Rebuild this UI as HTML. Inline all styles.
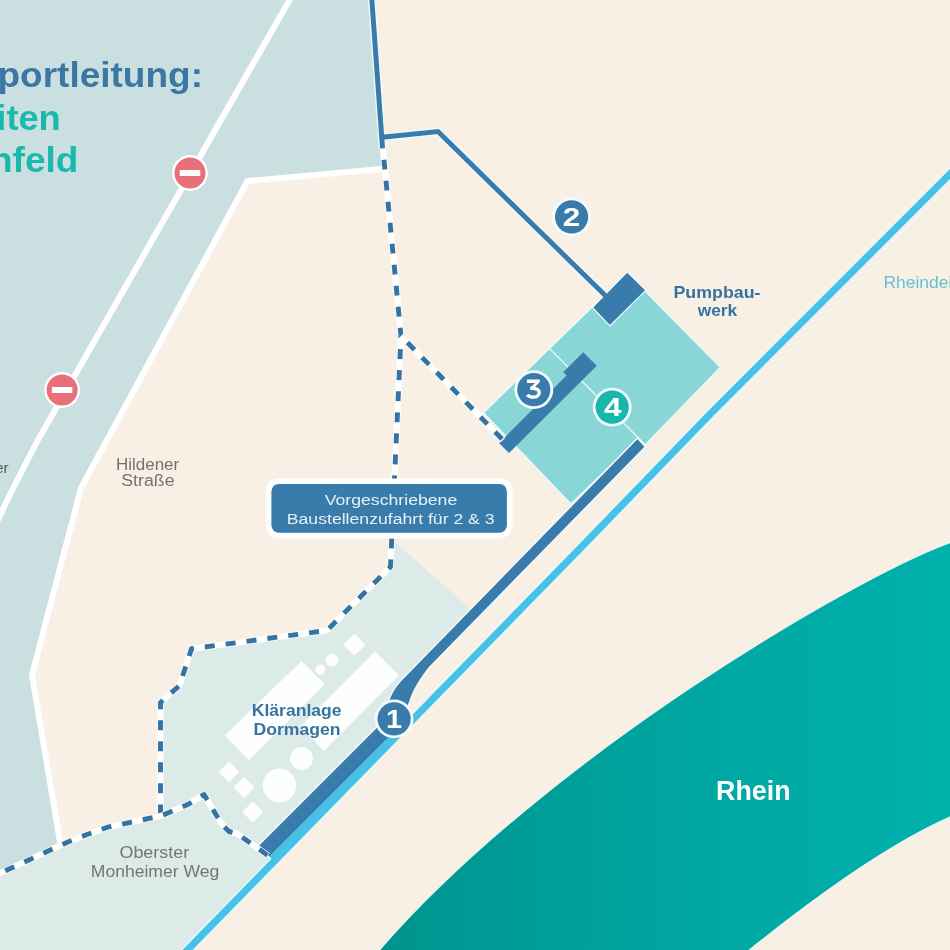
<!DOCTYPE html>
<html><head><meta charset="utf-8"><style>
html,body{margin:0;padding:0;background:#f8f0e5;}
svg{display:block;will-change:transform;}
text{font-family:"Liberation Sans",sans-serif;}
</style></head><body>
<svg width="950" height="950" viewBox="0 0 950 950">
<defs>
<linearGradient id="rg" x1="380" y1="0" x2="950" y2="0" gradientUnits="userSpaceOnUse">
<stop offset="0" stop-color="#00948e"/><stop offset="0.6" stop-color="#00a8a3"/><stop offset="1" stop-color="#00b1ac"/>
</linearGradient>
</defs>
<rect width="950" height="950" fill="#f8f0e5"/>
<!-- left bluish region -->
<path d="M-5,-5 L371.5,-5 L382.5,148 L383.5,169 L247.5,181 L81,488 L32,675 L60,842 L-5,875.5 Z" fill="#c9dfe0"/>
<!-- klaeranlage region -->
<path d="M-5.0,875.5 L10.3,868.5 L29.5,859.7 L48.7,850.8 L67.8,842.0 L87.7,834.3 L107.6,827.2 L128.2,822.8 L160.6,816.0 L160.5,702.5 L179.5,685.5 L191.5,648.8 L326.9,630.4 L390.5,566.8 L391.5,541.0 L395.2,542.3 L473.5,611.3 L410.0,676.0 L395.0,725.0 L272.0,860.0 L182.0,955.0 L-5.0,955.0 Z" fill="#ddebe8"/>
<!-- Rhein -->
<path d="M374.5,955 L379.5,950 C547.3,756.7 854.4,577.3 950,542.6 L956,540.4 L956,814.5 L950,817.1 C896.9,840.6 833.6,882.3 749.4,950 L745,955 Z" fill="url(#rg)" stroke="#eef6f1" stroke-width="1.2"/>
<!-- white roads -->
<g fill="none" stroke="#fff" stroke-width="6" stroke-linejoin="round">
<path d="M292.4,-5 L37.9,440 L12.2,490 L-4,524"/>
<path d="M383.5,168.7 L247.5,181 L81,488 L32,675 L60,842"/>
</g>
<!-- no entry signs -->
<g>
<circle cx="190" cy="173" r="17.9" fill="#fff"/><circle cx="190" cy="173" r="15.5" fill="#e8707a"/><rect x="179.75" y="170" width="20.5" height="6" fill="#fff"/>
<circle cx="62.1" cy="390" r="17.9" fill="#fff"/><circle cx="62.1" cy="390" r="15.5" fill="#e8707a"/><rect x="51.85" y="387" width="20.5" height="6" fill="#fff"/>
</g>
<!-- Klaeranlage buildings -->
<g fill="#fdfefe">
<polygon points="301.6,661 324.7,684.2 248.9,760 224.7,735.4"/>
<polygon points="375,651.5 398.75,675.4 324,750.7 300.3,726.8"/>
<polygon points="354.4,633.7 365.4,644.7 354.4,655.7 343.4,644.7"/>
<circle cx="320.4" cy="669.6" r="5"/>
<circle cx="331.8" cy="660.3" r="6.3"/>
<circle cx="301.5" cy="758.5" r="11.4"/>
<circle cx="279.4" cy="785.4" r="16.8"/>
<polygon points="229,761.6 239.5,772.1 229,782.6 218.5,772.1"/>
<polygon points="244.1,777 254.6,787.5 244.1,798 233.6,787.5"/>
<polygon points="252.7,801.5 263.2,812 252.7,822.5 242.2,812"/>
</g>
<!-- light blue line (Rheindeich) -->
<path d="M955,169 L710,414.2 L580,548.5 L187.4,950 L182.5,955" stroke="#e9f8fb" stroke-width="10" fill="none" stroke-linejoin="round"/>
<path d="M955,169 L710,414.2 L580,548.5 L187.4,950 L182.5,955" stroke="#47c1e5" stroke-width="7.2" fill="none" stroke-linejoin="round"/>
<!-- teal pump area -->
<path d="M627.3,273 L720.2,367.4 L645,445 L638.5,438.5 L570.9,503.9 L483.6,412.7 Z" fill="#88d6d6" stroke="#eefaf9" stroke-width="1.2"/>
<path d="M549.5,348.5 L645,444.5" stroke="#eefaf9" stroke-width="1.1"/>
<!-- dark pipe 1 -->
<path d="M637.4,439.2 L405,677.2 C398,684 393,691 389.5,700 L378.5,726.5 L259,846 L269.4,856.4 L399.4,726.4 L409.7,700 C412,692 418,681 428.6,667.2 L644.4,446.7 Z" fill="#397cab" stroke="#f3fafb" stroke-width="3" paint-order="stroke"/>
<path d="M378.5,726.5 L259,846 L269.4,856.4 L399.4,726.4 Z" fill="#397cab"/>
<path d="M399.4,726.4 L269.4,856.4 L272.5,859.5 L402.5,729.5 Z" fill="#47c1e5"/>
<!-- pipe 3 -->
<polygon points="583.25,352.25 596.75,365.75 509,453 499,443 566.5,375.5 563.4,372.1" fill="#397cab"/>
<!-- pump rect top -->
<polygon points="627.2,273.1 644.8,290.3 609.9,324.8 593.5,307.6" fill="#397cab" stroke="#f3fafb" stroke-width="2.6" paint-order="stroke"/>
<!-- solid line 2 -->
<path d="M371.5,-5 L382.5,148" stroke="#f3fafb" stroke-width="7.6" fill="none"/>
<path d="M384,137.2 L438,131.5 L606,296.3" stroke="#f3fafb" stroke-width="7.6" fill="none"/>
<path d="M371.5,-5 L382.5,148" stroke="#397cab" stroke-width="5" fill="none"/>
<path d="M382,137.3 L438,131.5 L606,296.3" stroke="#397cab" stroke-width="5" fill="none"/>
<polygon points="627.2,273.1 644.8,290.3 609.9,324.8 593.5,307.6" fill="#397cab"/>
<!-- dashed routes -->
<g fill="none" stroke-linejoin="round">
<path d="M382.8,148.0 L401.0,336.0" stroke="#fff" stroke-width="6.2"/>
<path d="M382.8,148.0 L401.0,336.0" stroke="#3574a2" stroke-width="4.9" stroke-dasharray="10 11.10" stroke-dashoffset="-11.7"/>
<path d="M401.0,336.0 L390.5,566.8 L326.9,630.4 L191.5,648.8 L179.5,685.5 L160.5,702.5 L160.5,816.0" stroke="#fff" stroke-width="6.2"/>
<path d="M401.0,336.0 L390.5,566.8 L326.9,630.4 L191.5,648.8 L179.5,685.5 L160.5,702.5 L160.5,816.0" stroke="#3574a2" stroke-width="4.9" stroke-dasharray="10 11.05" stroke-dashoffset="-13.2"/>
<path d="M401.0,336.0 L503.0,440.0" stroke="#fff" stroke-width="6.2"/>
<path d="M401.0,336.0 L503.0,440.0" stroke="#3574a2" stroke-width="4.9" stroke-dasharray="10 10.85" stroke-dashoffset="-9.2"/>
<path d="M-5.0,875.5 L10.3,868.5 L29.5,859.7 L48.7,850.8 L67.8,842.0 L87.7,834.3 L107.6,827.2 L128.2,822.8 L160.6,816.0 L188.3,804.3 L204.0,794.5 L222.0,824.5 L229.0,831.5 L237.0,833.5 L268.0,855.5" stroke="#fff" stroke-width="6.2"/>
<path d="M-5.0,875.5 L10.3,868.5 L29.5,859.7 L48.7,850.8 L67.8,842.0 L87.7,834.3 L107.6,827.2 L128.2,822.8 L160.6,816.0 L188.3,804.3 L204.0,794.5 L222.0,824.5 L229.0,831.5 L237.0,833.5 L268.0,855.5" stroke="#3574a2" stroke-width="4.9" stroke-dasharray="10 11.05" stroke-dashoffset="-11.2"/>
</g>
<!-- label box -->
<rect x="265.9" y="478.4" width="246.6" height="60" rx="12.5" fill="#fdfefe"/>
<rect x="271.4" y="483.9" width="235.5" height="48.8" rx="7.5" fill="#397cab"/>
<text x="391" y="505.1" font-size="15.5" fill="#e6f1f6" text-anchor="middle" textLength="132.6" lengthAdjust="spacingAndGlyphs">Vorgeschriebene</text>
<text x="390.7" y="524.3" font-size="15.5" fill="#e6f1f6" text-anchor="middle" textLength="207.8" lengthAdjust="spacingAndGlyphs">Baustellenzufahrt für 2 &amp; 3</text>
<!-- number circles -->
<g font-weight="bold" font-size="25" fill="#fff" text-anchor="middle">
<circle cx="394.1" cy="718.9" r="19.4" fill="#f4fbfc"/><circle cx="394.1" cy="718.9" r="16.6" fill="#397cab"/>
<text x="394.1" y="727.8" textLength="16" lengthAdjust="spacingAndGlyphs">1</text>
<circle cx="571.6" cy="216.9" r="19.4" fill="#f4fbfc"/><circle cx="571.6" cy="216.9" r="16.6" fill="#397cab"/>
<text x="571.6" y="225.9" font-size="25.8" textLength="17.5" lengthAdjust="spacingAndGlyphs">2</text>
<circle cx="533.8" cy="389.7" r="19.4" fill="#f4fbfc"/><circle cx="533.8" cy="389.7" r="16.6" fill="#397cab"/>
<polygon points="526.9,379.6 539.8,379.6 539.8,381.9 533.9,387.9 529.9,387.9 535.1,382.9 526.9,382.9" fill="#fff"/><path d="M530.2,388.3 C536.5,388.0 539.2,389.9 539.2,392.6 C539.2,395.4 536.8,397.2 533.6,397.2 C530.8,397.2 528.5,396.3 527.2,394.9" fill="none" stroke="#fff" stroke-width="3.3"/>
<circle cx="612.2" cy="407.2" r="19.4" fill="#f4fbfc"/><circle cx="612.2" cy="407.2" r="16.6" fill="#17b7ad"/>
<text x="612.7" y="416" textLength="17.5" lengthAdjust="spacingAndGlyphs">4</text>
</g>
<!-- labels -->
<text x="717" y="297.9" font-size="16.5" font-weight="bold" fill="#3673a0" text-anchor="middle" textLength="87" lengthAdjust="spacingAndGlyphs">Pumpbau-</text>
<text x="717.5" y="316.3" font-size="16.5" font-weight="bold" fill="#3673a0" text-anchor="middle" textLength="39.5" lengthAdjust="spacingAndGlyphs">werk</text>
<text x="883.5" y="287.5" font-size="17" fill="#66bfd3" textLength="87.2" lengthAdjust="spacingAndGlyphs">Rheindeich</text>
<text x="147.6" y="469.8" font-size="16" fill="#75726e" text-anchor="middle" textLength="63.2" lengthAdjust="spacingAndGlyphs">Hildener</text>
<text x="147.9" y="486.4" font-size="16" fill="#75726e" text-anchor="middle" textLength="53.2" lengthAdjust="spacingAndGlyphs">Straße</text>
<text x="8.6" y="472.7" font-size="15" fill="#535b5d" text-anchor="end">er</text>
<text x="296.7" y="716.3" font-size="16.2" font-weight="bold" fill="#3673a0" text-anchor="middle" textLength="89.8" lengthAdjust="spacingAndGlyphs">Kläranlage</text>
<text x="297" y="735.3" font-size="16.2" font-weight="bold" fill="#3673a0" text-anchor="middle" textLength="87" lengthAdjust="spacingAndGlyphs">Dormagen</text>
<text x="154.3" y="857.8" font-size="16.5" fill="#727575" text-anchor="middle" textLength="69.6" lengthAdjust="spacingAndGlyphs">Oberster</text>
<text x="155" y="877" font-size="16.5" fill="#727575" text-anchor="middle" textLength="128.5" lengthAdjust="spacingAndGlyphs">Monheimer Weg</text>
<text x="753.3" y="800" font-size="27" font-weight="bold" fill="#fff" text-anchor="middle" textLength="74.5" lengthAdjust="spacingAndGlyphs">Rhein</text>
<!-- title -->
<text x="-2.5" y="87.4" font-size="34.5" font-weight="bold" fill="#3a77a5" textLength="205.5" lengthAdjust="spacingAndGlyphs">portleitung:</text>
<text x="-3.7" y="130.3" font-size="34.5" font-weight="bold" fill="#1ab8ad" textLength="64.4" lengthAdjust="spacingAndGlyphs">iten</text>
<text x="-10" y="171.8" font-size="34.5" font-weight="bold" fill="#1ab8ad" textLength="88.3" lengthAdjust="spacingAndGlyphs">nfeld</text>
</svg>
</body></html>
